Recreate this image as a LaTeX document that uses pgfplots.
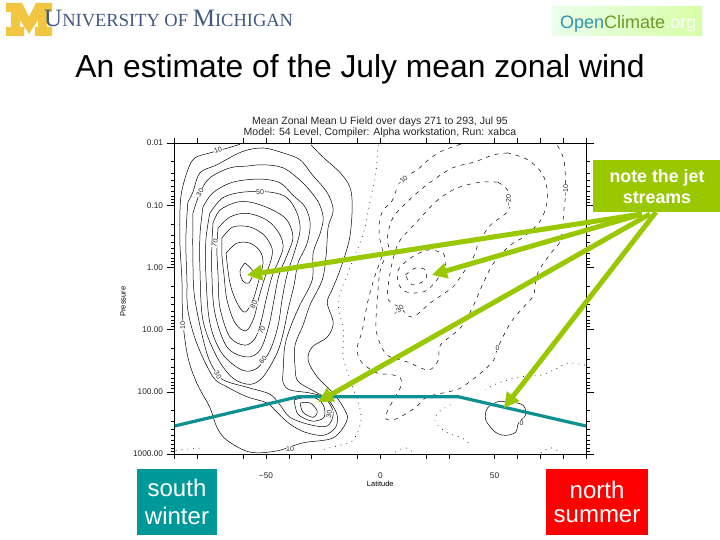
\documentclass[border=0pt]{standalone}
\usepackage{fontspec}
\setmainfont{Liberation Sans}
\newfontfamily\serifcaps{Liberation Serif}
\usepackage{pgfplots}
\pgfplotsset{compat=1.18}
\usetikzlibrary{arrows.meta}
\definecolor{mblue}{HTML}{41597F}
\definecolor{maize}{HTML}{F2C640}
\definecolor{callout}{HTML}{99C800}
\definecolor{tealbar}{HTML}{0E9090}
\definecolor{tealbox}{HTML}{009999}
\definecolor{ocopen}{HTML}{2F94A8}
\definecolor{occlim}{HTML}{6A9A28}
\newcommand{\fs}[1]{\fontsize{#1}{#1}\selectfont}
\tikzset{
    solid contour/.style={black,line width=0.5pt,mark=none,smooth,tension=0.55},
    neg contour/.style={black,line width=0.5pt,mark=none,smooth,tension=0.55,dash pattern=on 4pt off 5pt},
    zero contour/.style={black,line width=0.6pt,mark=none,smooth,tension=0.55,dash pattern=on 0.8pt off 5pt},
    lbl/.style={font=\fs{7},fill=white,inner sep=0.6pt,text=black!85},
}

\begin{document}
\begin{tikzpicture}[x=1pt,y=1pt]
\useasboundingbox (0,0) rectangle (720,540);
\fill[white] (0,0) rectangle (720,540);

% Michigan logo
\fill[maize] (6,537) -- (22,537) -- (29,523) -- (36,537) -- (52,537) -- (52,528) -- (47,528) -- (47,513) -- (52,513) -- (52,504) -- (35,504) -- (35,513) -- (38,513) -- (38,520) -- (29,506) -- (20,520) -- (20,513) -- (24,513) -- (24,504) -- (6,504) -- (6,513) -- (11,513) -- (11,528) -- (6,528) -- cycle;
\node[anchor=base west,inner sep=0,text=mblue] at (44,513) {\serifcaps{\fs{25}U\fs{18.5}NIVERSITY OF \fs{25}M\fs{18.5}ICHIGAN}};

% OpenClimate logo
\shade[left color=green!8!white,right color=green!45!yellow!35!white] (552,504) rectangle (702,533);
\node[anchor=base west,inner sep=0] at (560,511) {\fs{18}\textcolor{ocopen}{Open}\textcolor{occlim}{Climate}\textcolor{white}{.org}};

\node[anchor=base,inner sep=0] at (360,462) {\fs{31.8}An estimate of the July mean zonal wind};

\begin{axis}[
    at={(174.6pt,86pt)}, anchor=south west,
    width=411.4pt, height=311pt, scale only axis,
    xmin=-90, xmax=90, ymin=-2, ymax=3, y dir=reverse,
    tick align=outside, tick pos=both,
    xticklabel pos=lower, yticklabel pos=left,
    major tick length=8pt, minor tick length=4pt,
    tick style={black,line width=0.5pt},
    xtick style={/pgfplots/major tick length=5pt},
    axis line style={black,line width=0.7pt},
    xtick={-90,-80,-60,-50,-40,-30,-10,0,20,30,50,60,70,80,90},
    xticklabels={,,,−50,,,,0,,,50,,,,},
    % pressure is plotted as log10(p)
    ytick={-2,-1,0,1,2,3},
    yticklabels={0.01,0.10,1.00,10.00,100.00,1000.00},
    minor ytick={-1.7,-1.52,-1.4,-1.3,-1.22,-1.15,-1.1,-1.05,
                 -0.7,-0.52,-0.4,-0.3,-0.22,-0.15,-0.1,-0.05,
                 0.3,0.48,0.6,0.7,0.78,0.85,0.9,0.95,
                 1.3,1.48,1.6,1.7,1.78,1.85,1.9,1.95,
                 2.3,2.48,2.6,2.7,2.78,2.85,2.9,2.95},
    tick label style={font=\fs{8.3},text=black!85},
    xticklabel style={yshift=-7pt},
    xlabel={Latitude}, ylabel={Pressure},
    every axis x label/.style={at={(axis description cs:0.5,-0.096)},anchor=center,font=\fs{7.5}},
    every axis y label/.style={at={(axis description cs:-0.125,0.49)},rotate=90,anchor=center,font=\fs{7.5}},
]
% westerlies, 10 to 100 m/s
\addplot[solid contour] coordinates {(-61.4,-1.98)(-66.7,-1.92)(-74.6,-1.84)(-81.1,-1.76)(-84.2,-1.57)(-87.3,-1.12)(-87.7,-0.44)(-86.8,0.20)(-86.4,0.85)(-84.2,1.44)(-80.3,1.86)(-74.6,2.25)(-71.5,2.57)(-67.1,2.78)(-57.0,2.97)(-45.2,2.95)(-33.8,2.82)(-20.6,2.74)(-14.5,2.45)(-16.2,2.25)(-20.6,2.02)(-27.6,1.76)(-31.6,1.49)(-29.8,1.28)(-23.2,1.12)(-20.6,0.89)(-23.2,0.57)(-21.1,0.36)(-18.4,0.12)(-15.4,-0.20)(-13.2,-0.52)(-12.3,-0.97)(-13.2,-1.28)(-17.5,-1.52)(-25,-1.77)(-30.3,-1.97)};
\addplot[solid contour] coordinates {(-84.2,-1.05)(-82,-1.21)(-78.9,-1.52)(-71.5,-1.65)(-60.5,-1.86)(-51.3,-1.92)(-42.5,-1.84)(-35.1,-1.73)(-29.8,-1.49)(-23.2,-1.20)(-20.6,-0.92)(-22.8,-0.65)(-23.7,-0.20)(-25.4,0.20)(-30.7,0.60)(-33.8,0.93)(-37.3,1.25)(-37.3,1.60)(-36,1.83)(-28.5,2.00)(-22.8,2.13)(-18.9,2.37)(-19.7,2.58)(-25,2.70)(-32.9,2.65)(-39.5,2.52)(-45.2,2.33)(-49.6,2.18)(-58.3,2.08)(-67.1,1.92)(-73.2,1.76)(-80.3,1.22)(-84.2,0.69)(-84.6,0.20)(-85.1,-0.44)(-84.2,-1.05)};
\addplot[solid contour] coordinates {(-82,-0.87)(-78.9,-1.20)(-74.6,-1.44)(-65.8,-1.60)(-57.9,-1.63)(-51.3,-1.65)(-42.5,-1.60)(-34.2,-1.37)(-27.6,-1.08)(-25,-0.81)(-26.3,-0.55)(-29.4,-0.23)(-29.8,0.20)(-35.1,0.60)(-39,0.93)(-41.7,1.25)(-42.5,1.65)(-42.5,1.86)(-39.5,1.97)(-30.7,2.02)(-24.1,2.10)(-20.6,2.34)(-23.2,2.55)(-30.7,2.53)(-39.5,2.41)(-43.9,2.21)(-48.2,2.04)(-57,1.94)(-66.7,1.84)(-71,1.73)(-75.9,1.38)(-81.1,0.52)(-82,-0.12)(-82,-0.87)};
\addplot[solid contour] coordinates {(-37.7,2.13)(-29.8,2.08)(-25,2.21)(-24.6,2.41)(-29.8,2.47)(-36,2.36)(-37.7,2.13)};
\addplot[solid contour] coordinates {(-35.1,2.18)(-30.7,2.18)(-27.6,2.31)(-29.4,2.41)(-33.8,2.33)(-35.1,2.18)};
\addplot[solid contour] coordinates {(-77.6,-0.97)(-73.2,-1.20)(-64.5,-1.37)(-52.6,-1.42)(-43.9,-1.36)(-38.2,-1.16)(-32.9,-0.97)(-30.7,-0.71)(-32,-0.39)(-36,-0.07)(-37.7,0.28)(-40.4,0.69)(-42.5,1.06)(-45.2,1.38)(-51.3,1.76)(-57,1.88)(-64.5,1.78)(-71.5,1.44)(-77.6,0.85)(-78.9,0.04)(-78.9,-0.52)(-77.6,-0.97)};
\addplot[solid contour] coordinates {(-74.6,-0.87)(-68.9,-1.12)(-60.1,-1.21)(-48.2,-1.21)(-40.8,-1.12)(-36.4,-0.87)(-35.1,-0.60)(-37.3,-0.28)(-40.8,0.12)(-43,0.52)(-44.7,0.93)(-48.2,1.33)(-53.9,1.62)(-60.5,1.65)(-69.3,1.38)(-74.6,0.89)(-76.3,0.12)(-76.3,-0.44)(-74.6,-0.87)};
\addplot[solid contour] coordinates {(-73.2,-0.71)(-70.2,-0.92)(-62.7,-1.05)(-55.7,-1.04)(-46.9,-0.92)(-40.8,-0.76)(-38.2,-0.49)(-40.4,-0.23)(-44.3,0.12)(-46.5,0.52)(-48.7,0.93)(-52.6,1.33)(-58.5,1.44)(-67.1,1.28)(-72.4,0.73)(-73.7,0.12)(-73.7,-0.36)(-73.2,-0.71)};
\addplot[solid contour] coordinates {(-71,-0.63)(-65.8,-0.81)(-58.3,-0.87)(-49.6,-0.76)(-44.3,-0.55)(-42.5,-0.33)(-44.3,-0.12)(-47.4,0.15)(-50,0.52)(-52.2,0.88)(-54.8,1.14)(-59.2,1.25)(-65.8,1.12)(-70.2,0.64)(-71,0.12)(-71.5,-0.28)(-71,-0.63)};
\addplot[solid contour] coordinates {(-69.3,-0.47)(-64.5,-0.65)(-57,-0.65)(-50.9,-0.52)(-47.4,-0.31)(-47.8,-0.12)(-50.4,0.15)(-53.1,0.48)(-55.3,0.81)(-58.8,1.02)(-63.6,0.89)(-67.1,0.52)(-68.4,0.12)(-69.3,-0.20)(-69.3,-0.47)};
\addplot[solid contour] coordinates {(-67.5,-0.23)(-62.7,-0.39)(-57,-0.39)(-52.6,-0.26)(-51.3,-0.07)(-53.1,0.20)(-55.7,0.52)(-59.2,0.72)(-62.7,0.57)(-65.8,0.25)(-67.5,-0.23)};
\addplot[solid contour] coordinates {(-59.2,-0.07)(-61.4,0.06)(-60.1,0.22)(-57.5,0.25)(-55.7,0.07)(-59.2,-0.07)};
\addplot[solid contour] coordinates {(51.3,2.16)(46.9,2.26)(46.1,2.45)(50.4,2.65)(54.8,2.70)(59.2,2.65)(60.5,2.50)(63.6,2.37)(62.3,2.21)(55.7,2.16)(51.3,2.16)};

% easterlies
\addplot[neg contour] coordinates {(35.1,-1.98)(26.3,-1.86)(19.7,-1.69)(16.2,-1.57)(8.8,-1.39)(5.3,-1.08)(1.3,-0.92)(-0.4,-0.73)(-0.4,-0.49)(0.9,-0.23)(-2.2,0.12)(-5.3,0.52)(-7.9,1.01)(-10.1,1.30)(-8.3,1.52)(-1.3,1.70)(4.4,1.72)(8.8,1.78)(8.8,1.93)(5.7,2.13)(2.2,2.41)(5.7,2.45)(11.8,2.34)(16.7,2.21)(20.6,2.08)(29.8,2.00)(35.1,1.94)(43.9,1.70)(49.6,1.49)(51.3,1.30)(57,0.89)(63.6,0.60)(67.1,0.44)(68.9,0.09)(74.6,-0.23)(78.9,-0.44)(80.3,-0.92)(81.1,-1.24)(80.3,-1.73)(76.8,-2.00)};
\addplot[neg contour] coordinates {(55.7,-1.84)(49.6,-1.81)(40.8,-1.69)(31.6,-1.60)(21.9,-1.37)(14,-1.13)(5.7,-0.81)(3.1,-0.49)(3.5,-0.28)(0,0.04)(-1.3,0.52)(-1.8,1.01)(1.3,1.33)(4.4,1.44)(11.8,1.52)(21,1.65)(25.4,1.49)(26.3,1.25)(35.1,0.97)(40.4,0.64)(44.7,0.28)(49.6,-0.07)(57,-0.36)(62.7,-0.49)(70.2,-0.76)(73.2,-1.13)(71.1,-1.49)(64.5,-1.73)(55.7,-1.84)};
\addplot[neg contour] coordinates {(51.3,-1.37)(43.9,-1.37)(33.8,-1.28)(25,-1.08)(16.7,-0.76)(11.8,-0.57)(7.9,-0.39)(5.3,-0.09)(3.5,0.28)(3.5,0.52)(8.8,0.65)(14,0.80)(21.9,0.57)(31.6,0.32)(35.1,0.15)(40.8,-0.17)(43,-0.39)(48.2,-0.68)(56.1,-0.92)(55.7,-1.24)(51.3,-1.37)};
\addplot[neg contour] coordinates {(27.6,-0.23)(28.5,-0.01)(21.9,0.32)(16.7,0.41)(9.6,0.36)(7.5,0.07)(13.2,-0.15)(21,-0.28)(27.6,-0.23)};
\addplot[neg contour] coordinates {(11,0.12)(15.4,0.01)(19.7,0.04)(19.7,0.20)(14,0.28)(11,0.12)};

% zero line
\addplot[zero contour] coordinates {(-0.9,-1.97)(-2.2,-1.45)(-4.4,-1.08)(-7,-0.60)(-11,-0.20)(-15.4,0.20)(-18.4,0.57)(-16.2,1.01)(-16.2,1.44)(-13.2,1.81)(-8.8,2.29)(-8.8,2.53)(-12.3,2.79)(-18.9,2.87)(-26.3,2.94)};
\addplot[zero contour] coordinates {(89.5,1.57)(82,1.54)(75.9,1.65)(70.2,1.73)(61.4,1.76)(55.7,1.81)(49.6,1.89)(46.1,1.97)};
\addplot[zero contour] coordinates {(30.7,2.21)(25.4,2.33)(24.1,2.49)(29.4,2.66)(35.1,2.73)(38.6,2.82)};
\addplot[zero contour] coordinates {(6.6,2.97)(11,2.90)(14.5,2.98)};
\addplot[zero contour] coordinates {(70.2,2.98)(74.6,2.90)(78.9,2.98)};
\addplot[zero contour] coordinates {(-89.5,2.94)(-77.6,2.90)};

% contour labels
\node[lbl,rotate=20] at (axis cs:-71,-1.89) {10};
\node[lbl,rotate=60] at (axis cs:-78.9,-1.20) {30};
\node[lbl] at (axis cs:-52.6,-1.21) {50};
\node[lbl,rotate=75] at (axis cs:-72.4,-0.39) {70};
\node[lbl,rotate=60] at (axis cs:-55.3,0.60) {80};
\node[lbl,rotate=60] at (axis cs:-51.8,1.01) {70};
\node[lbl,rotate=50] at (axis cs:-51.3,1.49) {60};
\node[lbl,rotate=-60] at (axis cs:-71,1.73) {30};
\node[lbl,rotate=90] at (axis cs:-86.4,0.93) {10};
\node[lbl] at (axis cs:-39.5,2.92) {10};
\node[lbl,rotate=80] at (axis cs:-22.4,2.36) {30};
\node[lbl,rotate=45] at (axis cs:9.6,-1.39) {−10};
\node[lbl,rotate=90] at (axis cs:56.1,-1.08) {−20};
\node[lbl,rotate=90] at (axis cs:81.1,-1.24) {−10};
\node[lbl,rotate=45] at (axis cs:7.9,0.69) {−30};
\node[lbl] at (axis cs:51.3,1.30) {0};
\node[lbl] at (axis cs:61.8,2.50) {0};

% tropopause
\addplot[tealbar,line width=3.2pt,mark=none] coordinates {(-90,2.55)(-36,2.08)(34.2,2.08)(90,2.55)};
\end{axis}

\node[align=center,inner sep=0,text=black!85] at (380,413) {\fs{10.5}Mean Zonal Mean U Field over days 271 to 293, Jul 95\\[-1pt]\fs{10.5}Model: 54 Level, Compiler: Alpha workstation, Run: xabca};

% callout and arrows
\fill[callout] (593,328) rectangle (720,380);
\node[align=center,inner sep=0,text=white] at (657,353.5) {\fs{17.8}\bfseries note the jet\\[4pt]\fs{17.8}\bfseries streams};
\begin{scope}[callout,line width=5pt,arrows={-{Triangle[length=15pt,width=15pt]}}]
\draw (642,326) -- (247,265);
\draw (642,326) -- (432,265);
\draw (650,326) -- (318,138);
\draw (656,328) -- (504,132);
\end{scope}

\fill[tealbox] (137,5) rectangle (217,71);
\node[align=center,inner sep=0,text=white] at (177,38) {\fs{24}south\\[10pt]\fs{24}winter};
\fill[red] (546,5) rectangle (648,71);
\node[align=center,inner sep=0,text=white] at (597,38) {\fs{24}north\\[10pt]\fs{24}summer};
\end{tikzpicture}
\end{document}
